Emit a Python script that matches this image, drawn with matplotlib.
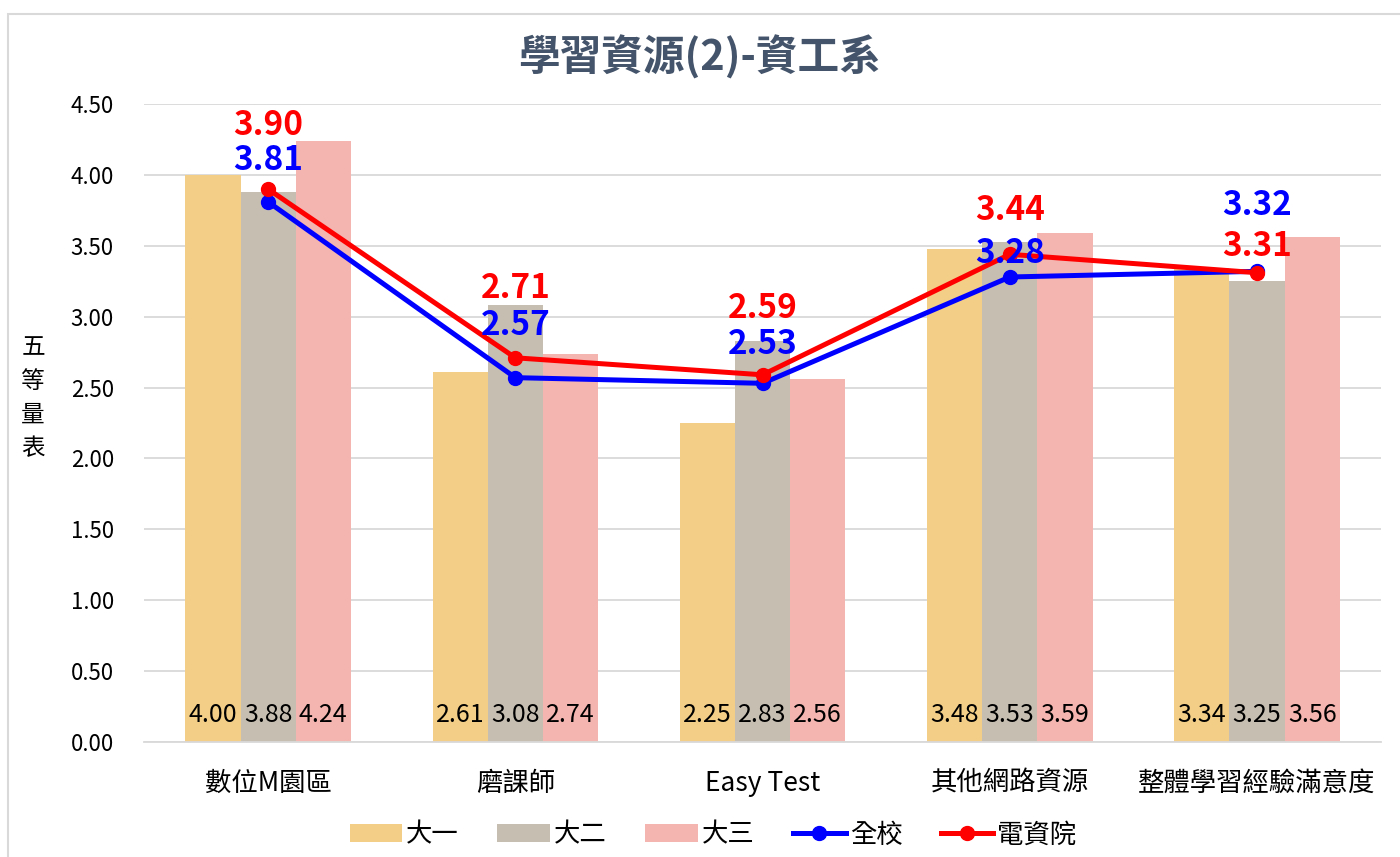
import numpy as np
import matplotlib.pyplot as plt
from matplotlib.patches import Rectangle

plt.rcParams['font.family'] = ['Noto Sans CJK TC', 'DejaVu Sans']

categories = ["數位M園區", "磨課師", "Easy Test", "其他網路資源", "整體學習經驗滿意度"]
year1 = [4.00, 2.61, 2.25, 3.48, 3.34]
year2 = [3.88, 3.08, 2.83, 3.53, 3.25]
year3 = [4.24, 2.74, 2.56, 3.59, 3.56]
school = [3.81, 2.57, 2.53, 3.28, 3.32]
college = [3.90, 2.71, 2.59, 3.44, 3.31]

# label offsets in pixels above each point
school_off = [41, 52, 39, 23, 66]
college_off = [64, 69, 66, 44, 26]


def main():
    fig = plt.figure(figsize=(14, 8.57), dpi=100)
    ax = fig.add_axes([0.1032, 0.1342, 0.883, 0.7444])

    # chart border
    fig.patches.append(Rectangle((8 / 1400, -0.01), 1.2, 1 - 14 / 857 + 0.01,
                                 transform=fig.transFigure, fill=False,
                                 edgecolor="#D9D9D9", linewidth=1.5))

    x = np.arange(len(categories))
    w = 0.223
    bar_colors = ["#F2CE86", "#C6BEB1", "#F4B4AF"]
    for i, (vals, name) in enumerate(zip([year1, year2, year3], ["大一", "大二", "大三"])):
        pos = x + (i - 1) * w
        ax.bar(pos, vals, width=w, color=bar_colors[i], label=name, zorder=2)
        for p, v in zip(pos, vals):
            ax.text(p, 0.19, f"{v:.2f}", ha="center", va="center",
                    fontsize=18, color="black", zorder=3)

    ax.plot(x, school, color="#0000FF", lw=3.6, marker="o", ms=10,
            label="全校", zorder=4)
    ax.plot(x, college, color="#FF0000", lw=3.6, marker="o", ms=10,
            label="電資院", zorder=5)

    for xi, v, o in zip(x, school, school_off):
        ax.annotate(f"{v:.2f}", (xi, v), xytext=(0, o), textcoords="offset pixels",
                    ha="center", va="center", fontsize=24, fontweight="bold",
                    color="#0000FF", zorder=6)
    for xi, v, o in zip(x, college, college_off):
        ax.annotate(f"{v:.2f}", (xi, v), xytext=(0, o), textcoords="offset pixels",
                    ha="center", va="center", fontsize=24, fontweight="bold",
                    color="#FF0000", zorder=6)

    ax.set_xlim(-0.5, len(categories) - 0.5)
    ax.set_ylim(0, 4.5)
    ax.set_yticks(np.arange(0, 4.51, 0.5))
    ax.set_yticklabels([f"{t:.2f}" for t in np.arange(0, 4.51, 0.5)], fontsize=16)
    ax.set_xticks(x)
    ax.set_xticklabels(categories, fontsize=19)
    ax.tick_params(axis="both", length=0, colors="black")
    ax.tick_params(axis="x", pad=20)
    ax.tick_params(axis="y", pad=22)
    ax.grid(axis="y", color="#D9D9D9", lw=1.3, zorder=0)
    for s in ["top", "right", "left"]:
        ax.spines[s].set_visible(False)
    ax.spines["bottom"].set_color("#D9D9D9")
    ax.spines["bottom"].set_linewidth(1.3)

    fig.text(33 / 1400, 1 - 398 / 857, "\n".join("五等量表"), ha="center", va="center",
             fontsize=17, linespacing=1.6)

    fig.text(0.5, 1 - 57 / 857, "學習資源(2)-資工系", ha="center", va="center",
             fontsize=30, fontweight="bold", color="#44546A")

    handles, labels = ax.get_legend_handles_labels()
    order = [2, 3, 4, 0, 1]
    fig.legend([handles[i] for i in order], [labels[i] for i in order],
               loc="center", bbox_to_anchor=(713 / 1400, 1 - 835 / 857), ncol=5,
               frameon=False, fontsize=19, handlelength=2.0, handleheight=0.65,
               columnspacing=1.45, handletextpad=0.15)

    fig.savefig("out.png", dpi=100)


if __name__ == "__main__":
    main()
